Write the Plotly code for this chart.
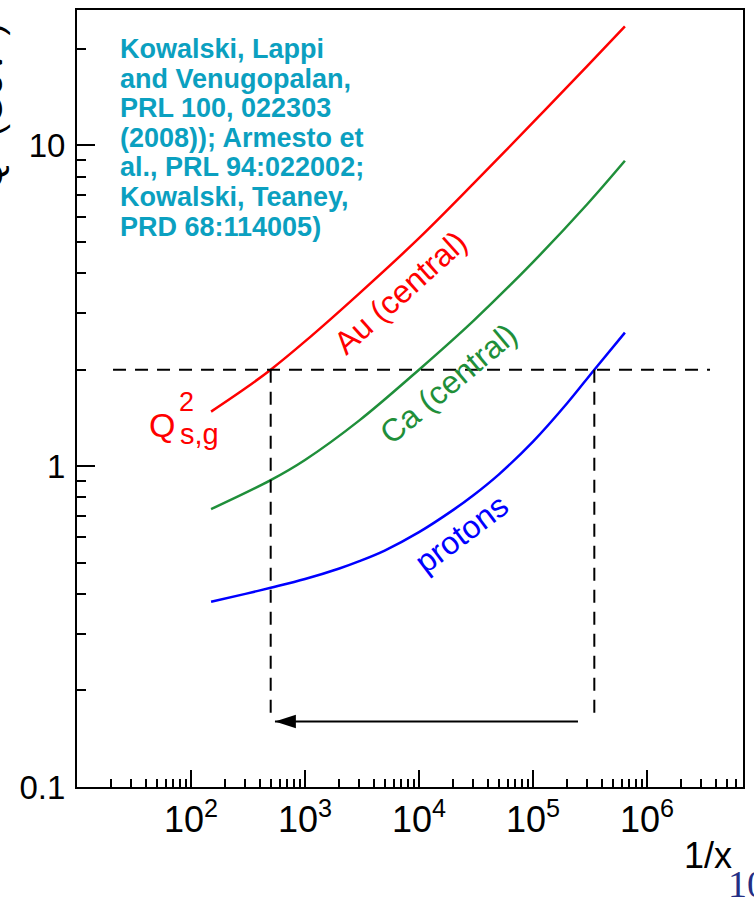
import plotly.graph_objects as go

# ---------------- data ----------------
au_x = [150, 300, 500, 1e3, 3e3, 1e4, 3e4, 1e5, 3e5, 6.4e5]
au_q2 = [1.48, 1.75, 2.0, 2.45, 3.46, 5.14, 7.6, 11.8, 17.7, 23.5]

ca_x = [150, 500, 1e3, 3e3, 1e4, 3e4, 1e5, 3e5, 6.4e5]
ca_q2 = [0.735, 0.905, 1.046, 1.39, 2.0, 2.84, 4.33, 6.57, 8.96]

p_x = [150, 300, 500, 1e3, 2e3, 3e3, 5e3, 1e4, 2e4, 3e4, 5e4, 1e5, 2e5, 3.45e5, 6.4e5]
p_q2 = [0.378, 0.400, 0.418, 0.445, 0.480, 0.506, 0.546, 0.623, 0.731, 0.812, 0.942,
        1.193, 1.574, 2.0, 2.61]

q2_level = 2.0
hline_x = [20.7, 3.57e6]
x_au_at_level = 500
x_p_at_level = 3.45e5
drop_to = 0.167
arrow_y = 0.160
arrow_from = 2.48e5
arrow_to = 545

x_tickvals = [1e2, 1e3, 1e4, 1e5, 1e6]
x_ticktext = ["10<sup>2</sup>", "10<sup>3</sup>", "10<sup>4</sup>", "10<sup>5</sup>", "10<sup>6</sup>"]
y_tickvals = [0.1, 1, 10]
y_ticktext = ["0.1", "1", "10"]

citation_lines = [
    "Kowalski, Lappi",
    "and Venugopalan,",
    "PRL 100, 022303",
    "(2008)); Armesto et",
    "al., PRL 94:022002;",
    "Kowalski, Teaney,",
    "PRD 68:114005)",
]

# ---------------- layout constants ----------------
W, H = 754, 897
L, R, T, B = 77, 11, 8, 110
PW, PH = W - L - R, H - T - B
FONT = "Liberation Sans, Arial, sans-serif"
RED, GREEN, BLUE = "#ff0000", "#1f8f3a", "#0000ff"
TEAL = "#0ba0c0"


def P(xp, yp):
    """pixel position -> paper coordinates"""
    return (xp - L) / PW, (H - B - yp) / PH


x_minor = [k * 10 ** d for d in range(1, 7) for k in range(2, 10)]
y_minor = [k * 10 ** d for d in range(-1, 2) for k in range(2, 10)]

fig = go.Figure()


def curve(x, y, color):
    fig.add_trace(go.Scatter(x=x, y=y, mode="lines", hoverinfo="skip",
                             line=dict(color=color, width=2.5, shape="spline", smoothing=1)))


curve(au_x, au_q2, RED)
curve(ca_x, ca_q2, GREEN)
curve(p_x, p_q2, BLUE)

dash = dict(color="black", width=2, dash="13px,9px")
fig.add_trace(go.Scatter(x=hline_x, y=[q2_level, q2_level], mode="lines", line=dash, hoverinfo="skip"))
fig.add_trace(go.Scatter(x=[x_au_at_level, x_au_at_level], y=[q2_level, drop_to], mode="lines", line=dash, hoverinfo="skip"))
fig.add_trace(go.Scatter(x=[x_p_at_level, x_p_at_level], y=[q2_level, drop_to], mode="lines", line=dash, hoverinfo="skip"))

# arrow
fig.add_trace(go.Scatter(x=[arrow_from, arrow_to], y=[arrow_y, arrow_y], mode="lines",
                         line=dict(color="black", width=2), hoverinfo="skip"))
fig.add_trace(go.Scatter(x=[arrow_to], y=[arrow_y], mode="markers",
                         marker=dict(symbol="arrow", angle=-90, size=22, color="black",
                                     line=dict(width=0)), hoverinfo="skip"))

ann = []


def text(xp, yp, s, size, color="black", angle=0, xanchor="center", family=FONT, bold=False):
    x, y = P(xp, yp)
    ann.append(dict(x=x, y=y, xref="paper", yref="paper", text=s, showarrow=False,
                    textangle=angle, xanchor=xanchor, yanchor="middle",
                    font=dict(size=size, color=color, family=family,
                              weight="bold" if bold else "normal")))


text(400, 292, "Au (central)", 32, RED, -42)
text(448, 383, "Ca (central)", 32, GREEN, -40)
text(461, 533, "protons", 32, BLUE, -37)
text(162, 424, "Q", 34, RED)
text(186, 401, "2", 27, RED)
text(199, 433, "s,g", 29, RED)
for i, line in enumerate(citation_lines):
    text(118, 47 + 29.7 * i, line, 27, TEAL, xanchor="left", bold=True)
text(-13, 105, "Q<sup>2</sup> (GeV<sup>2</sup>)", 37, "black", -90)
text(708, 856, "1/x", 36)
text(726, 884, "10", 38, "#232e84", xanchor="left", family="Liberation Serif, Times New Roman, serif")

axis_common = dict(type="log", showgrid=False, zeroline=False, showline=True, linecolor="black",
                   linewidth=2, mirror=True, ticks="inside", tickcolor="black", tickwidth=2,
                   tickmode="array")

fig.update_layout(
    width=W, height=H,
    margin=dict(l=L, r=R, t=T, b=B, pad=0),
    paper_bgcolor="white", plot_bgcolor="white",
    showlegend=False,
    annotations=ann,
    xaxis=dict(range=[1.0, 6.842], tickvals=x_tickvals, ticktext=x_ticktext, ticklen=17,
               tickfont=dict(size=36, family=FONT, color="black"),
               minor=dict(tickmode="array", tickvals=x_minor, ticks="inside", ticklen=8,
                          tickwidth=2, tickcolor="black", showgrid=False),
               **axis_common),
    yaxis=dict(range=[-1, 1.4224], tickvals=y_tickvals, ticktext=y_ticktext, ticklen=18,
               ticklabelstandoff=3,
               tickfont=dict(size=33, family=FONT, color="black"),
               minor=dict(tickmode="array", tickvals=y_minor, ticks="inside", ticklen=9,
                          tickwidth=2, tickcolor="black", showgrid=False),
               **axis_common),
)

fig.write_html("out.html")
